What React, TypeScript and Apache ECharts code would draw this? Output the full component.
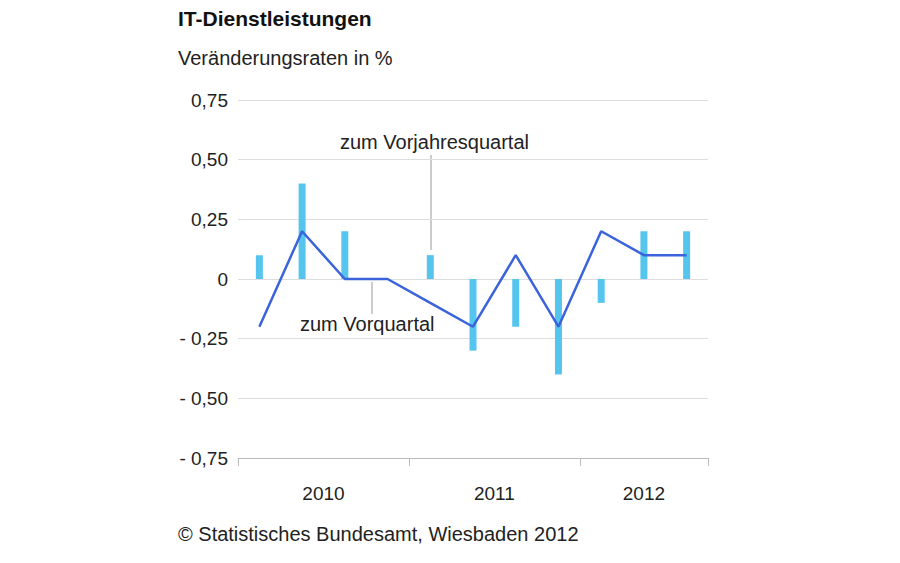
import React, { useEffect, useRef } from 'react';
import * as echarts from 'echarts';

const quarters = ['2010 Q1', '2010 Q2', '2010 Q3', '2010 Q4', '2011 Q1', '2011 Q2', '2011 Q3', '2011 Q4', '2012 Q1', '2012 Q2', '2012 Q3'];
const vorjahr = [0.1, 0.4, 0.2, 0, 0.1, -0.3, -0.2, -0.4, -0.1, 0.2, 0.2];
const vorquartal = [-0.2, 0.2, 0, 0, -0.1, -0.2, 0.1, -0.2, 0.2, 0.1, 0.1];
const years = ['2010', '2011', '2012'];
const yearCenters = [2, 6, 9.5];
const yearBounds = [0, 4, 8, 11];

const font = 'Liberation Sans, Arial, sans-serif';

const App: React.FC = () => {
  const ref = useRef<HTMLDivElement>(null);

  useEffect(() => {
    if (!ref.current) return;
    const chart = echarts.init(ref.current, undefined, { renderer: 'svg' });
    const fmt = (v: number) =>
      v === 0 ? '0' : (v < 0 ? '- ' : '') + Math.abs(v).toFixed(2).replace('.', ',');

    chart.setOption({
      animation: false,
      backgroundColor: '#fff',
      textStyle: { fontFamily: font },
      grid: { left: 238, right: 192, top: 100, bottom: 105 },
      xAxis: {
        type: 'value',
        min: 0,
        max: 11,
        splitLine: { show: false },
        axisLine: { show: true, onZero: false, lineStyle: { color: '#bbb' } },
        axisTick: { show: true, customValues: yearBounds, length: 8, lineStyle: { color: '#bbb' } },
        axisLabel: {
          customValues: yearCenters,
          formatter: (v: number) => years[yearCenters.indexOf(v)] ?? '',
          color: '#222',
          fontSize: 19,
          margin: 26,
          fontFamily: font,
        },
      },
      yAxis: {
        type: 'value',
        min: -0.75,
        max: 0.75,
        interval: 0.25,
        axisLine: { show: false },
        axisTick: { show: false },
        splitLine: { lineStyle: { color: '#ddd' } },
        axisLabel: { formatter: fmt, color: '#222', fontSize: 19, margin: 10, fontFamily: font },
      },
      series: [
        {
          type: 'bar',
          name: 'zum Vorjahresquartal',
          data: vorjahr.map((v, i) => [i + 0.5, v]),
          barWidth: 7,
          itemStyle: { color: '#56c5ee' },
        },
        {
          type: 'line',
          name: 'zum Vorquartal',
          data: vorquartal.map((v, i) => [i + 0.5, v]),
          symbol: 'none',
          lineStyle: { color: '#3a63dc', width: 2.5 },
          z: 3,
        },
      ],
      graphic: [
        { type: 'text', left: 178, top: 8, style: { text: 'IT-Dienstleistungen', font: `bold 21px ${font}`, fill: '#111' } },
        { type: 'text', left: 178, top: 48, style: { text: 'Veränderungsraten in %', font: `20px ${font}`, fill: '#222' } },
        { type: 'text', left: 340, top: 132, style: { text: 'zum Vorjahresquartal', font: `20px ${font}`, fill: '#222' } },
        { type: 'line', shape: { x1: 431, y1: 155, x2: 431, y2: 250 }, style: { stroke: '#999', lineWidth: 1 } },
        { type: 'text', left: 300, top: 314, style: { text: 'zum Vorquartal', font: `20px ${font}`, fill: '#222' } },
        { type: 'line', shape: { x1: 372, y1: 282, x2: 372, y2: 314 }, style: { stroke: '#999', lineWidth: 1 } },
        { type: 'text', left: 178, top: 524, style: { text: '© Statistisches Bundesamt, Wiesbaden 2012', font: `20px ${font}`, fill: '#222' } },
      ],
    });
    return () => chart.dispose();
  }, []);

  return <div ref={ref} style={{ width: 900, height: 563, margin: -8 }} />;
};

export default App;
